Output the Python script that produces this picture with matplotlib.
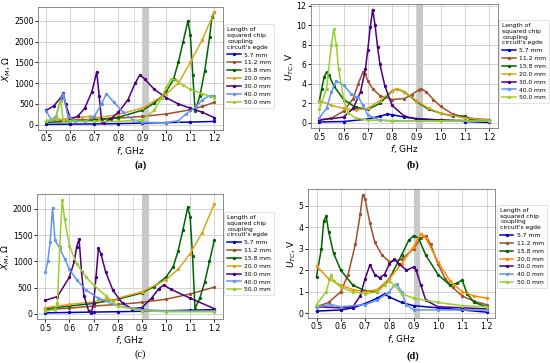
import matplotlib
matplotlib.use('Agg')
import matplotlib.pyplot as plt

# legend labels and colours
labels = ['5.7 mm', '11.2 mm', '15.8 mm', '20.0 mm', '30.0 mm', '40.0 mm', '50.0 mm']
colors_abc = ['mediumblue', 'sienna', 'darkgreen', 'goldenrod', 'indigo', 'cornflowerblue', 'yellowgreen']
colors_d = ['mediumblue', 'sienna', 'darkgreen', 'darkorange', 'indigo', 'cornflowerblue', 'yellowgreen']

# ---- (a) X_M, Ohm ----
a1_f = [0.5, 0.6, 0.7, 0.8, 0.9, 1.0, 1.1, 1.2]
a1_y = [10, 15, 20, 28, 40, 52, 65, 80]
a2_f = [0.5, 0.6, 0.7, 0.8, 0.9, 1.0, 1.1, 1.15, 1.2]
a2_y = [100, 110, 130, 160, 200, 260, 360, 440, 540]
a3_f = [0.5, 0.6, 0.7, 0.8, 0.9, 0.95, 1.0, 1.03, 1.05, 1.07, 1.09, 1.1, 1.11, 1.12, 1.14, 1.16, 1.18, 1.19, 1.2]
a3_y = [60, 80, 110, 180, 350, 520, 800, 1100, 1500, 2000, 2500, 2150, 1200, 330, 700, 1300, 2100, 2600, 2700]
a4_f = [0.5, 0.55, 0.6, 0.65, 0.68, 0.72, 0.8, 0.9, 1.0, 1.05, 1.1, 1.15, 1.2]
a4_y = [100, 130, 150, 180, 200, 170, 250, 400, 750, 1000, 1500, 2050, 2700]
a5_f = [0.5, 0.53, 0.56, 0.57, 0.58, 0.6, 0.63, 0.66, 0.69, 0.71, 0.72, 0.73, 0.74, 0.77, 0.8, 0.84, 0.87, 0.89, 0.91, 0.95, 1.0, 1.05, 1.1, 1.15, 1.2]
a5_y = [350, 450, 650, 760, 500, 150, 200, 400, 800, 1270, 700, 100, 50, 150, 300, 600, 1000, 1200, 1100, 850, 650, 500, 400, 300, 170]
a6_f = [0.5, 0.52, 0.54, 0.56, 0.57, 0.59, 0.62, 0.66, 0.7, 0.73, 0.75, 0.78, 0.82, 0.86, 0.9, 1.0, 1.05, 1.08, 1.12, 1.15, 1.18, 1.2]
a6_y = [330, 120, 200, 600, 740, 200, 80, 80, 200, 500, 750, 550, 300, 120, 60, 50, 100, 250, 420, 600, 700, 700]
a7_f = [0.5, 0.54, 0.555, 0.56, 0.57, 0.6, 0.7, 0.8, 0.9, 0.95, 0.98, 1.0, 1.02, 1.04, 1.07, 1.1, 1.15, 1.2]
a7_y = [80, 150, 560, 580, 100, 90, 80, 80, 120, 350, 650, 900, 1100, 1080, 950, 850, 750, 650]

# ---- (b) U_TC, V ----
b1_f = [0.5, 0.6, 0.7, 0.75, 0.78, 0.8, 0.85, 0.9, 1.0, 1.1, 1.2]
b1_y = [0.1, 0.15, 0.4, 0.7, 0.9, 0.85, 0.6, 0.45, 0.3, 0.15, 0.05]
b2_f = [0.5, 0.55, 0.6, 0.64, 0.66, 0.68, 0.69, 0.7, 0.72, 0.75, 0.8, 0.85, 0.88, 0.91, 0.92, 0.94, 0.97, 1.0, 1.05, 1.1, 1.15, 1.2]
b2_y = [0.3, 0.5, 1.2, 2.5, 4.0, 5.2, 5.0, 4.3, 3.5, 2.8, 2.4, 2.5, 2.9, 3.4, 3.5, 3.2, 2.4, 1.7, 0.9, 0.6, 0.4, 0.35]
b3_f = [0.5, 0.51, 0.52, 0.53, 0.54, 0.56, 0.6, 0.65, 0.7, 0.75, 0.8, 0.82, 0.85, 0.9, 0.95, 1.0, 1.05, 1.1, 1.12, 1.2]
b3_y = [2.2, 3.5, 4.7, 5.2, 4.9, 3.8, 2.4, 1.6, 1.4, 2.0, 3.3, 3.5, 3.2, 2.2, 1.4, 1.0, 0.7, 0.7, 0.4, 0.3]
b4_f = [0.5, 0.55, 0.6, 0.65, 0.7, 0.75, 0.8, 0.82, 0.85, 0.9, 0.95, 1.0, 1.1, 1.2]
b4_y = [2.3, 1.8, 1.5, 1.3, 1.5, 2.3, 3.3, 3.5, 3.2, 2.3, 1.5, 1.0, 0.5, 0.3]
b5_f = [0.5, 0.6, 0.64, 0.67, 0.69, 0.7, 0.71, 0.72, 0.73, 0.74, 0.75, 0.77, 0.8, 0.85, 0.9, 1.0, 1.2]
b5_y = [0.3, 0.6, 1.5, 3.2, 5.5, 7.5, 9.8, 11.6, 10.0, 7.8, 6.0, 3.8, 1.8, 0.7, 0.4, 0.3, 0.2]
b6_f = [0.5, 0.53, 0.55, 0.57, 0.6, 0.63, 0.65, 0.66, 0.68, 0.7, 0.75, 0.8, 1.2]
b6_y = [0.5, 1.5, 3.2, 4.3, 3.9, 3.0, 2.7, 2.7, 1.8, 0.8, 0.3, 0.2, 0.2]
b7_f = [0.5, 0.53, 0.55, 0.56, 0.57, 0.58, 0.6, 0.62, 0.65, 0.7, 0.8, 1.0, 1.2]
b7_y = [1.4, 3.5, 8.0, 9.6, 8.0, 5.5, 2.5, 1.0, 0.5, 0.3, 0.25, 0.2, 0.2]

# ---- (c) X_M, Ohm ----
c1_f = [0.5, 0.6, 0.7, 0.8, 0.9, 1.0, 1.1, 1.2]
c1_y = [20, 28, 35, 42, 50, 60, 70, 80]
c2_f = [0.5, 0.6, 0.7, 0.8, 0.9, 1.0, 1.1, 1.2]
c2_y = [80, 110, 150, 180, 220, 280, 380, 510]
c3_f = [0.5, 0.6, 0.7, 0.8, 0.9, 0.95, 1.0, 1.03, 1.05, 1.07, 1.09, 1.1, 1.11, 1.12, 1.14, 1.16, 1.18, 1.2]
c3_y = [100, 150, 200, 280, 400, 520, 700, 900, 1200, 1600, 2030, 1850, 1100, 100, 300, 600, 1000, 1400]
c4_f = [0.5, 0.6, 0.7, 0.75, 0.78, 0.8, 0.9, 1.0, 1.05, 1.1, 1.15, 1.2]
c4_y = [120, 180, 230, 280, 250, 300, 420, 650, 850, 1150, 1550, 2100]
c5_f = [0.5, 0.55, 0.6, 0.62, 0.63, 0.64, 0.65, 0.66, 0.68, 0.69, 0.7, 0.71, 0.72, 0.73, 0.75, 0.78, 0.82, 0.86, 0.9, 0.94, 0.97, 0.99, 1.02, 1.1, 1.2]
c5_y = [260, 330, 700, 1000, 1280, 1430, 800, 350, 50, 10, 200, 700, 1250, 1150, 800, 450, 200, 100, 120, 300, 480, 550, 470, 300, 100]
c6_f = [0.5, 0.51, 0.52, 0.53, 0.54, 0.56, 0.58, 0.6, 0.63, 0.67, 0.72, 0.8, 0.9, 1.0, 1.2]
c6_y = [790, 1000, 1370, 2020, 1400, 1250, 1050, 850, 650, 450, 300, 150, 80, 60, 50]
c7_f = [0.5, 0.54, 0.55, 0.56, 0.57, 0.58, 0.6, 0.63, 0.67, 0.7, 0.75, 0.8, 0.9, 1.0, 1.2]
c7_y = [50, 80, 200, 1300, 2180, 1800, 1300, 950, 700, 550, 350, 150, 60, 40, 40]

# ---- (d) U_TC, V ----
d1_f = [0.5, 0.6, 0.65, 0.7, 0.75, 0.78, 0.8, 0.85, 0.9, 1.0, 1.1, 1.2]
d1_y = [0.1, 0.15, 0.25, 0.45, 0.7, 0.9, 0.75, 0.5, 0.35, 0.25, 0.15, 0.05]
d2_f = [0.5, 0.55, 0.6, 0.63, 0.66, 0.68, 0.69, 0.7, 0.72, 0.74, 0.77, 0.8, 0.85, 0.9, 0.93, 0.95, 0.97, 1.0, 1.03, 1.06, 1.1, 1.15, 1.2]
d2_y = [0.3, 0.5, 1.0, 1.8, 3.2, 4.6, 5.5, 5.3, 4.2, 3.3, 2.7, 2.4, 2.5, 3.0, 3.5, 3.6, 3.2, 2.3, 1.6, 1.2, 0.8, 0.55, 0.4]
d3_f = [0.5, 0.52, 0.53, 0.54, 0.55, 0.57, 0.6, 0.65, 0.7, 0.75, 0.8, 0.85, 0.88, 0.9, 0.92, 0.95, 1.0, 1.05, 1.08, 1.1, 1.12, 1.15, 1.2]
d3_y = [1.7, 3.0, 4.3, 4.5, 3.8, 2.8, 2.0, 1.3, 1.05, 1.0, 1.6, 2.7, 3.4, 3.6, 3.5, 2.7, 1.8, 1.3, 1.4, 1.55, 0.9, 0.5, 0.3]
d4_f = [0.5, 0.55, 0.6, 0.65, 0.7, 0.75, 0.8, 0.85, 0.9, 0.93, 0.95, 1.0, 1.05, 1.1, 1.15, 1.2]
d4_y = [2.2, 1.6, 1.3, 1.1, 1.0, 1.1, 1.6, 2.3, 3.1, 3.7, 3.5, 2.4, 1.5, 1.0, 0.8, 0.7]
d5_f = [0.5, 0.6, 0.65, 0.68, 0.7, 0.72, 0.74, 0.76, 0.78, 0.8, 0.82, 0.84, 0.87, 0.9, 0.91, 0.93, 0.95, 1.0, 1.1, 1.2]
d5_y = [0.3, 0.25, 0.3, 0.8, 1.6, 2.25, 1.8, 1.65, 1.8, 2.3, 2.5, 2.3, 2.0, 2.15, 2.0, 1.3, 0.6, 0.3, 0.25, 0.2]
d6_f = [0.5, 0.56, 0.6, 0.7, 0.75, 0.8, 0.82, 0.83, 0.85, 0.87, 0.9, 1.0, 1.2]
d6_y = [0.3, 0.4, 0.3, 0.4, 0.6, 1.0, 1.3, 1.35, 1.0, 0.4, 0.15, 0.15, 0.15]
d7_f = [0.5, 0.54, 0.56, 0.57, 0.6, 0.65, 0.7, 0.75, 0.78, 0.8, 0.82, 0.85, 0.9, 1.0, 1.1, 1.2]
d7_y = [0.4, 1.0, 1.8, 1.5, 1.2, 1.0, 0.9, 1.0, 1.3, 1.5, 1.3, 0.9, 0.7, 0.5, 0.35, 0.3]

xticks = [0.5, 0.6, 0.7, 0.8, 0.9, 1.0, 1.1, 1.2]

panels = [
    ([(a1_f, a1_y), (a2_f, a2_y), (a3_f, a3_y), (a4_f, a4_y), (a5_f, a5_y), (a6_f, a6_y), (a7_f, a7_y)],
     colors_abc, r'$X_M$, Ω', '(a)', 'bold', [0, 500, 1000, 1500, 2000, 2500],
     [0.069, 0.642, 0.336, 0.339], (0.408, 0.933), (0.255, 0.545)),
    ([(b1_f, b1_y), (b2_f, b2_y), (b3_f, b3_y), (b4_f, b4_y), (b5_f, b5_y), (b6_f, b6_y), (b7_f, b7_y)],
     colors_abc, r'$U_{TC}$, V', '(b)', 'bold', [0, 2, 4, 6, 8, 10, 12],
     [0.565, 0.647, 0.340, 0.342], (0.908, 0.945), (0.751, 0.545)),
    ([(c1_f, c1_y), (c2_f, c2_y), (c3_f, c3_y), (c4_f, c4_y), (c5_f, c5_y), (c6_f, c6_y), (c7_f, c7_y)],
     colors_abc, r'$X_M$, Ω', '(c)', 'normal', [0, 500, 1000, 1500, 2000],
     [0.067, 0.121, 0.338, 0.345], (0.408, 0.416), (0.255, 0.025)),
    ([(d1_f, d1_y), (d2_f, d2_y), (d3_f, d3_y), (d4_f, d4_y), (d5_f, d5_y), (d6_f, d6_y), (d7_f, d7_y)],
     colors_d, r'$U_{TC}$, V', '(d)', 'bold', [0, 1, 2, 3, 4, 5],
     [0.560, 0.124, 0.340, 0.355], (0.904, 0.436), (0.751, 0.019)),
]

fig = plt.figure(figsize=(5.5, 3.63), dpi=100)

for series, cols, ylab, tag, weight, yticks, pos, legpos, tagpos in panels:
    ax = fig.add_axes(pos)
    ax.axvspan(0.864, 0.868, color='#dddddd', lw=0, zorder=0)
    ax.axvspan(0.902, 0.928, color='#c8c8c8', lw=0, zorder=0)
    for (f, y), c, lab in zip(series, cols, labels):
        ax.plot(f, y, '-o', color=c, lw=1.1, ms=1.4, label=lab)
    ax.set_xticks(xticks)
    ax.set_yticks(yticks)
    ax.tick_params(labelsize=5.6, length=2, width=0.6, pad=1.2)
    ax.grid(True, color='#cccccc', lw=0.6)
    for s in ax.spines.values():
        s.set_color('#777777')
        s.set_linewidth(0.6)
    ax.set_xlabel(r'$f$, GHz', fontsize=6.5, labelpad=1)
    ax.set_ylabel(ylab, fontsize=6.5, labelpad=0.5)
    leg = ax.legend(loc='upper left', bbox_to_anchor=legpos, bbox_transform=fig.transFigure,
                    fontsize=4.3, title="Length of\nsquared chip\ncoupling\ncircuit's egde",
                    title_fontsize=4.3, handlelength=2.2, borderpad=0.5, labelspacing=0.45,
                    handletextpad=0.6, borderaxespad=0, frameon=True, fancybox=True)
    leg._legend_box.align = 'left'
    leg.get_frame().set_linewidth(0.5)
    fig.text(tagpos[0], tagpos[1], tag, fontsize=7.5, fontweight=weight,
             family='Liberation Serif', ha='center', va='center')

fig.savefig('out.png', dpi=100)
